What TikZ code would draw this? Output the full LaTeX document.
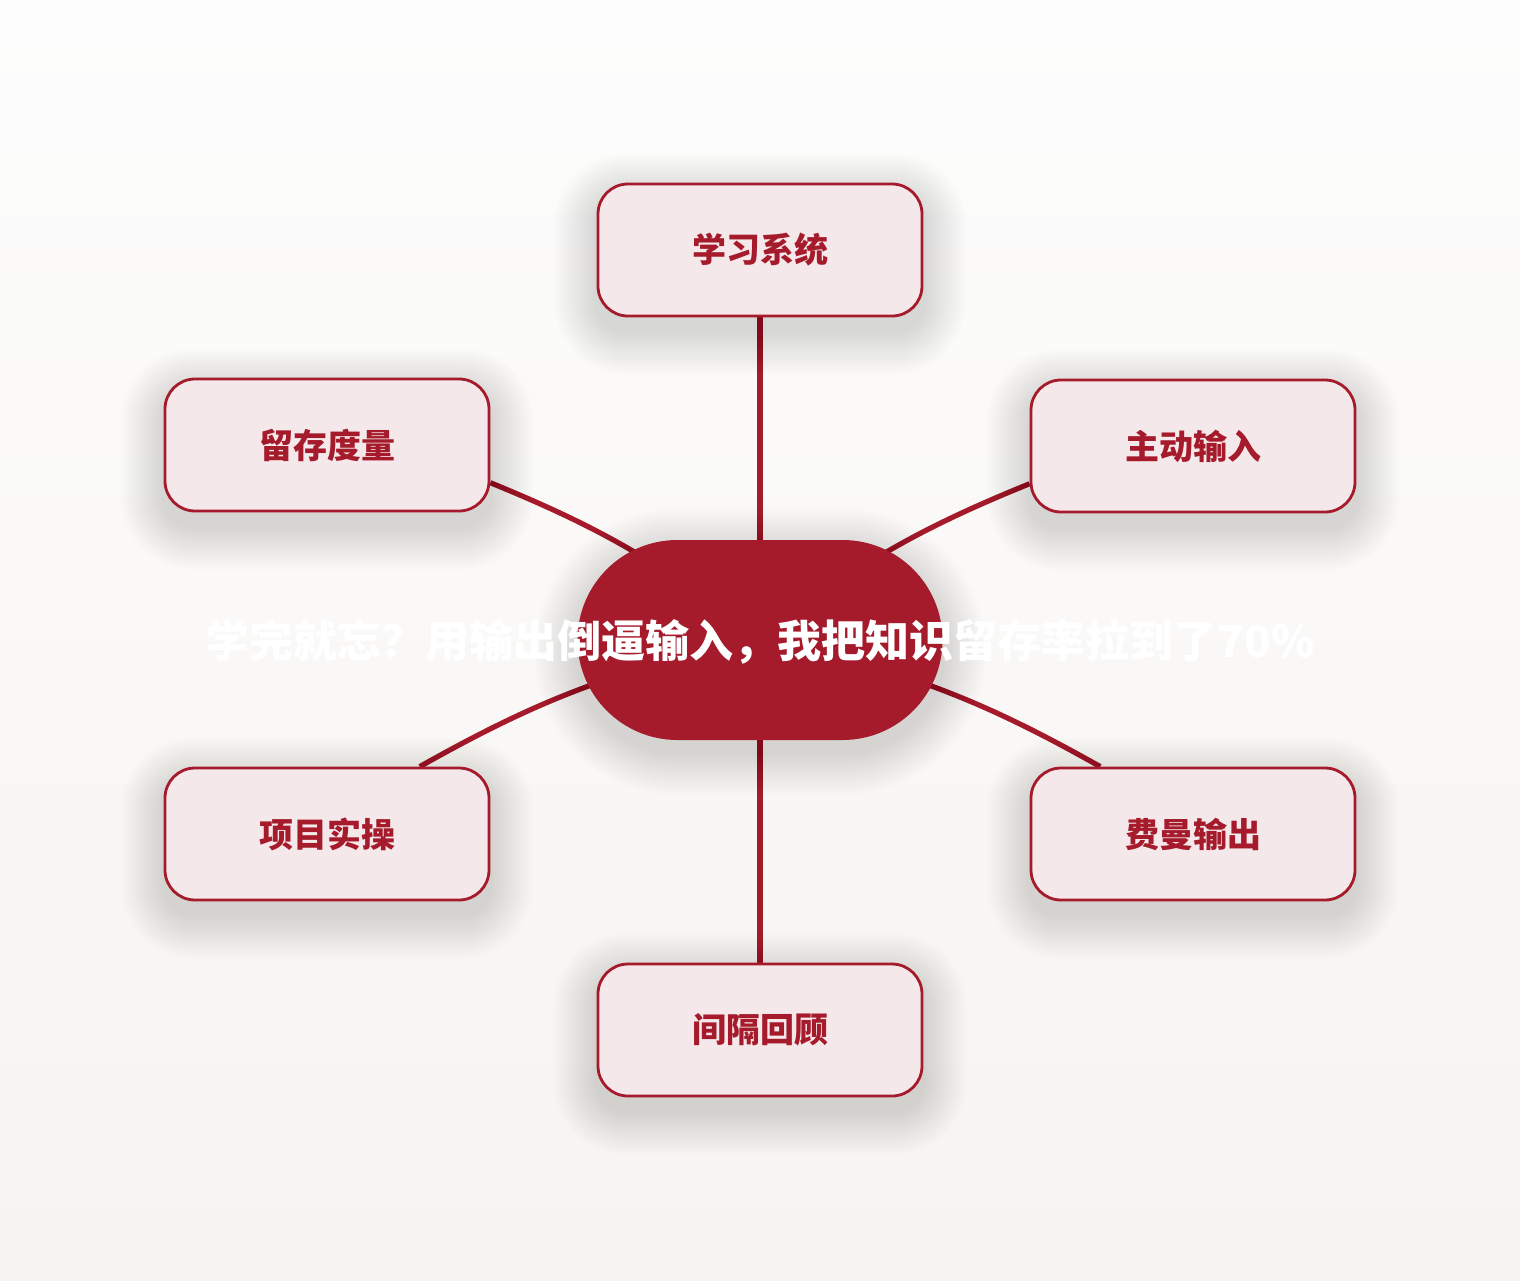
\documentclass[tikz,border=0pt]{standalone}
\usepackage{fontspec}
\newfontfamily\cjk{Noto Sans CJK SC}
\definecolor{crimson}{HTML}{A51B2B}
\definecolor{blush}{HTML}{F5E8EB}
\definecolor{paperTop}{HTML}{FDFDFD}
\definecolor{paperBot}{HTML}{F6F4F0}
\pgfdeclarelayer{bg}
\pgfdeclarelayer{links}
\pgfdeclarelayer{halo}
\pgfsetlayers{bg,links,halo,main}

\begin{document}
\begin{tikzpicture}[x=0.5pt,y=-0.5pt,
    leaf/.style={draw=crimson, line width=1.4pt, fill=blush, rounded corners=15pt,
      minimum width=162pt, minimum height=66pt, inner sep=0pt,
      font=\cjk\bfseries\fontsize{17}{20}\selectfont, text=crimson},
    hub/.style={fill=crimson, rounded corners=50pt, minimum width=182.5pt,
      minimum height=100pt, inner sep=0pt},
    link/.style={draw=crimson, line width=2.6pt}]

  \useasboundingbox (0,0) rectangle (1520,1280);
  \begin{pgfonlayer}{bg}
    \shade[top color=paperTop, bottom color=paperBot] (0,0) rectangle (1520,1280);
  \end{pgfonlayer}

  \node[hub] (core) at (760,640) {};
  \node[font=\cjk\bfseries\fontsize{22}{26}\selectfont, text=white] (title) at (760,642)
    {学完就忘？用输出倒逼输入，我把知识留存率拉到了70\%};

  \node[leaf] (sys) at (760,250) {学习系统};
  \node[leaf] (retain) at (327,445) {留存度量};
  \node[leaf] (input) at (1193,446) {主动输入};
  \node[leaf] (project) at (327,834) {项目实操};
  \node[leaf] (feynman) at (1193,834) {费曼输出};
  \node[leaf] (review) at (760,1030) {间隔回顾};

  \begin{pgfonlayer}{halo}
    \foreach \r in {1,...,18}
      \fill[black, opacity=0.009, rounded corners=50pt+\r*1.2pt]
        ([xshift=-\r*1.2pt, yshift=-\r*1.2pt-6pt]core.south west)
        rectangle ([xshift=\r*1.2pt, yshift=\r*1.2pt-6pt]core.north east);
    \foreach \n in {sys,retain,input,project,feynman,review}
      \foreach \r in {1,...,18}
        \fill[black, opacity=0.008, rounded corners=15pt+\r*1.2pt]
          ([xshift=-\r*1.2pt, yshift=-\r*1.2pt-7pt]\n.south west)
          rectangle ([xshift=\r*1.2pt, yshift=\r*1.2pt-7pt]\n.north east);
  \end{pgfonlayer}

  \begin{pgfonlayer}{links}
    \draw[link] (sys.south) -- (core.center);
    \draw[link] (retain.-13) to[bend left=8] (core.center);
    \draw[link] (input.193) to[bend right=8] (core.center);
    \draw[link] (project.36) to[bend left=9] (core.center);
    \draw[link] (feynman.144) to[bend right=9] (core.center);
    \draw[link] (review.north) -- (core.center);
  \end{pgfonlayer}
\end{tikzpicture}
\end{document}
